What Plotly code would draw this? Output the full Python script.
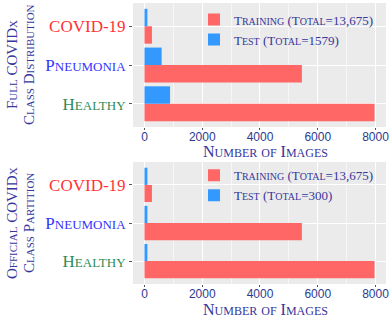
import plotly.graph_objects as go

categories = ["Healthy", "Pneumonia", "COVID-19"]
full_train = [7966, 5451, 258]
full_test = [885, 594, 100]
official_train = [7966, 5451, 258]
official_test = [100, 100, 100]
full_train_name = "Training (Total=13,675)"
full_test_name = "Test (Total=1579)"
off_train_name = "Training (Total=13,675)"
off_test_name = "Test (Total=300)"
x_ticks = [0, 2000, 4000, 6000, 8000]
cat_colors = {"Healthy": "#2e8b57", "Pneumonia": "#3333ff", "COVID-19": "#ff3333"}

SERIF = "Liberation Serif"
RED = "#ff6666"
BLUE = "#3399ff"
NAVY = "#36369c"


def sc(text, big, small):
    out = []
    i = 0
    while i < len(text):
        ch = text[i]
        if ch.islower():
            j = i
            while j < len(text) and text[j].islower():
                j += 1
            out.append('<span style="font-size:%dpx">%s</span>' % (small, text[i:j].upper()))
            i = j
        else:
            j = i
            while j < len(text) and not text[j].islower():
                j += 1
            out.append(text[i:j])
            i = j
    return "".join(out)


W, H = 391, 317
fig = go.Figure()

LEG_BIG, LEG_SMALL = 13, 10
fig.add_trace(go.Bar(y=categories, x=full_train, orientation="h", name=sc(full_train_name, LEG_BIG, LEG_SMALL),
                     marker=dict(color=RED, line=dict(width=0)), xaxis="x", yaxis="y", legend="legend"))
fig.add_trace(go.Bar(y=categories, x=full_test, orientation="h", name=sc(full_test_name, LEG_BIG, LEG_SMALL),
                     marker=dict(color=BLUE, line=dict(width=0)), xaxis="x", yaxis="y", legend="legend"))
fig.add_trace(go.Bar(y=categories, x=official_train, orientation="h", name=sc(off_train_name, LEG_BIG, LEG_SMALL),
                     marker=dict(color=RED, line=dict(width=0)), xaxis="x2", yaxis="y2", legend="legend2"))
fig.add_trace(go.Bar(y=categories, x=official_test, orientation="h", name=sc(off_test_name, LEG_BIG, LEG_SMALL),
                     marker=dict(color=BLUE, line=dict(width=0)), xaxis="x2", yaxis="y2", legend="legend2"))

xdom = [133 / W, 386 / W]
top_dom = [1 - 127 / H, 1 - 3 / H]
bot_dom = [1 - 284 / H, 1 - 162 / H]

xax = dict(range=[-398, 8364], tickvals=x_ticks, showgrid=True, gridcolor="white", gridwidth=1.1,
           minor=dict(dtick=1000, tick0=0, showgrid=True, gridcolor="#f6f6f6", gridwidth=0.5),
           ticks="outside", ticklen=2, tickcolor="#555555", zeroline=False, automargin=False,
           ticklabelstandoff=-3,
           tickfont=dict(family="Liberation Sans", size=12, color="#2b3a8e"), domain=xdom, showline=False)
ticktext = ['<span style="color:%s">%s</span>' % (cat_colors[c], sc(c, 17, 13)) for c in categories]
yax = dict(tickvals=categories, ticktext=ticktext, categoryorder="array", categoryarray=categories,
           range=[-0.6, 2.6], showgrid=True, gridcolor="white", gridwidth=1.1, ticks="outside", ticklen=3,
           tickcolor="#555555", tickfont=dict(family=SERIF, size=17), zeroline=False, showline=False,
           automargin=False)

fig.update_layout(
    width=W, height=H, margin=dict(l=0, r=0, t=0, b=0, autoexpand=False),
    paper_bgcolor="white", plot_bgcolor="#ebebeb",
    barmode="group", bargap=0.1, bargroupgap=0,
    xaxis=dict(xax, anchor="y"), yaxis=dict(yax, domain=top_dom, anchor="x"),
    xaxis2=dict(xax, anchor="y2"), yaxis2=dict(yax, domain=bot_dom, anchor="x2"),
    legend=dict(x=194 / W, y=top_dom[1] - 0.005, xanchor="left", yanchor="top", bgcolor="rgba(0,0,0,0)",
                font=dict(family=SERIF, size=LEG_BIG, color=NAVY), traceorder="normal", tracegroupgap=0,
                itemwidth=30),
    legend2=dict(x=194 / W, y=bot_dom[1] + 0.005, xanchor="left", yanchor="top", bgcolor="rgba(0,0,0,0)",
                 font=dict(family=SERIF, size=LEG_BIG, color=NAVY), traceorder="normal", tracegroupgap=0,
                 itemwidth=30),
    showlegend=True,
)

annos = []
for dom, l1, l2 in [(top_dom, "Full COVIDx", "Class Distribution"),
                    (bot_dom, "Official COVIDx", "Class Partition")]:
    yc = (dom[0] + dom[1]) / 2
    annos.append(dict(text=sc(l1, 15, 11), x=12 / W, y=yc, xref="paper", yref="paper", textangle=-90,
                      showarrow=False, font=dict(family=SERIF, size=15, color=NAVY), xanchor="center", yanchor="middle"))
    annos.append(dict(text=sc(l2, 15, 11), x=29 / W, y=yc, xref="paper", yref="paper", textangle=-90,
                      showarrow=False, font=dict(family=SERIF, size=15, color=NAVY), xanchor="center", yanchor="middle"))
for ypx in [151.5, 309]:
    annos.append(dict(text=sc("Number of Images", 16, 12), x=265 / W, y=1 - ypx / H,
                      xref="paper", yref="paper", showarrow=False,
                      font=dict(family=SERIF, size=16, color=NAVY), xanchor="center", yanchor="middle"))
fig.update_layout(annotations=annos)

fig.write_html("out.html", config={"displayModeBar": False},
               post_script="document.body.style.margin='0';document.body.style.padding='0';")
